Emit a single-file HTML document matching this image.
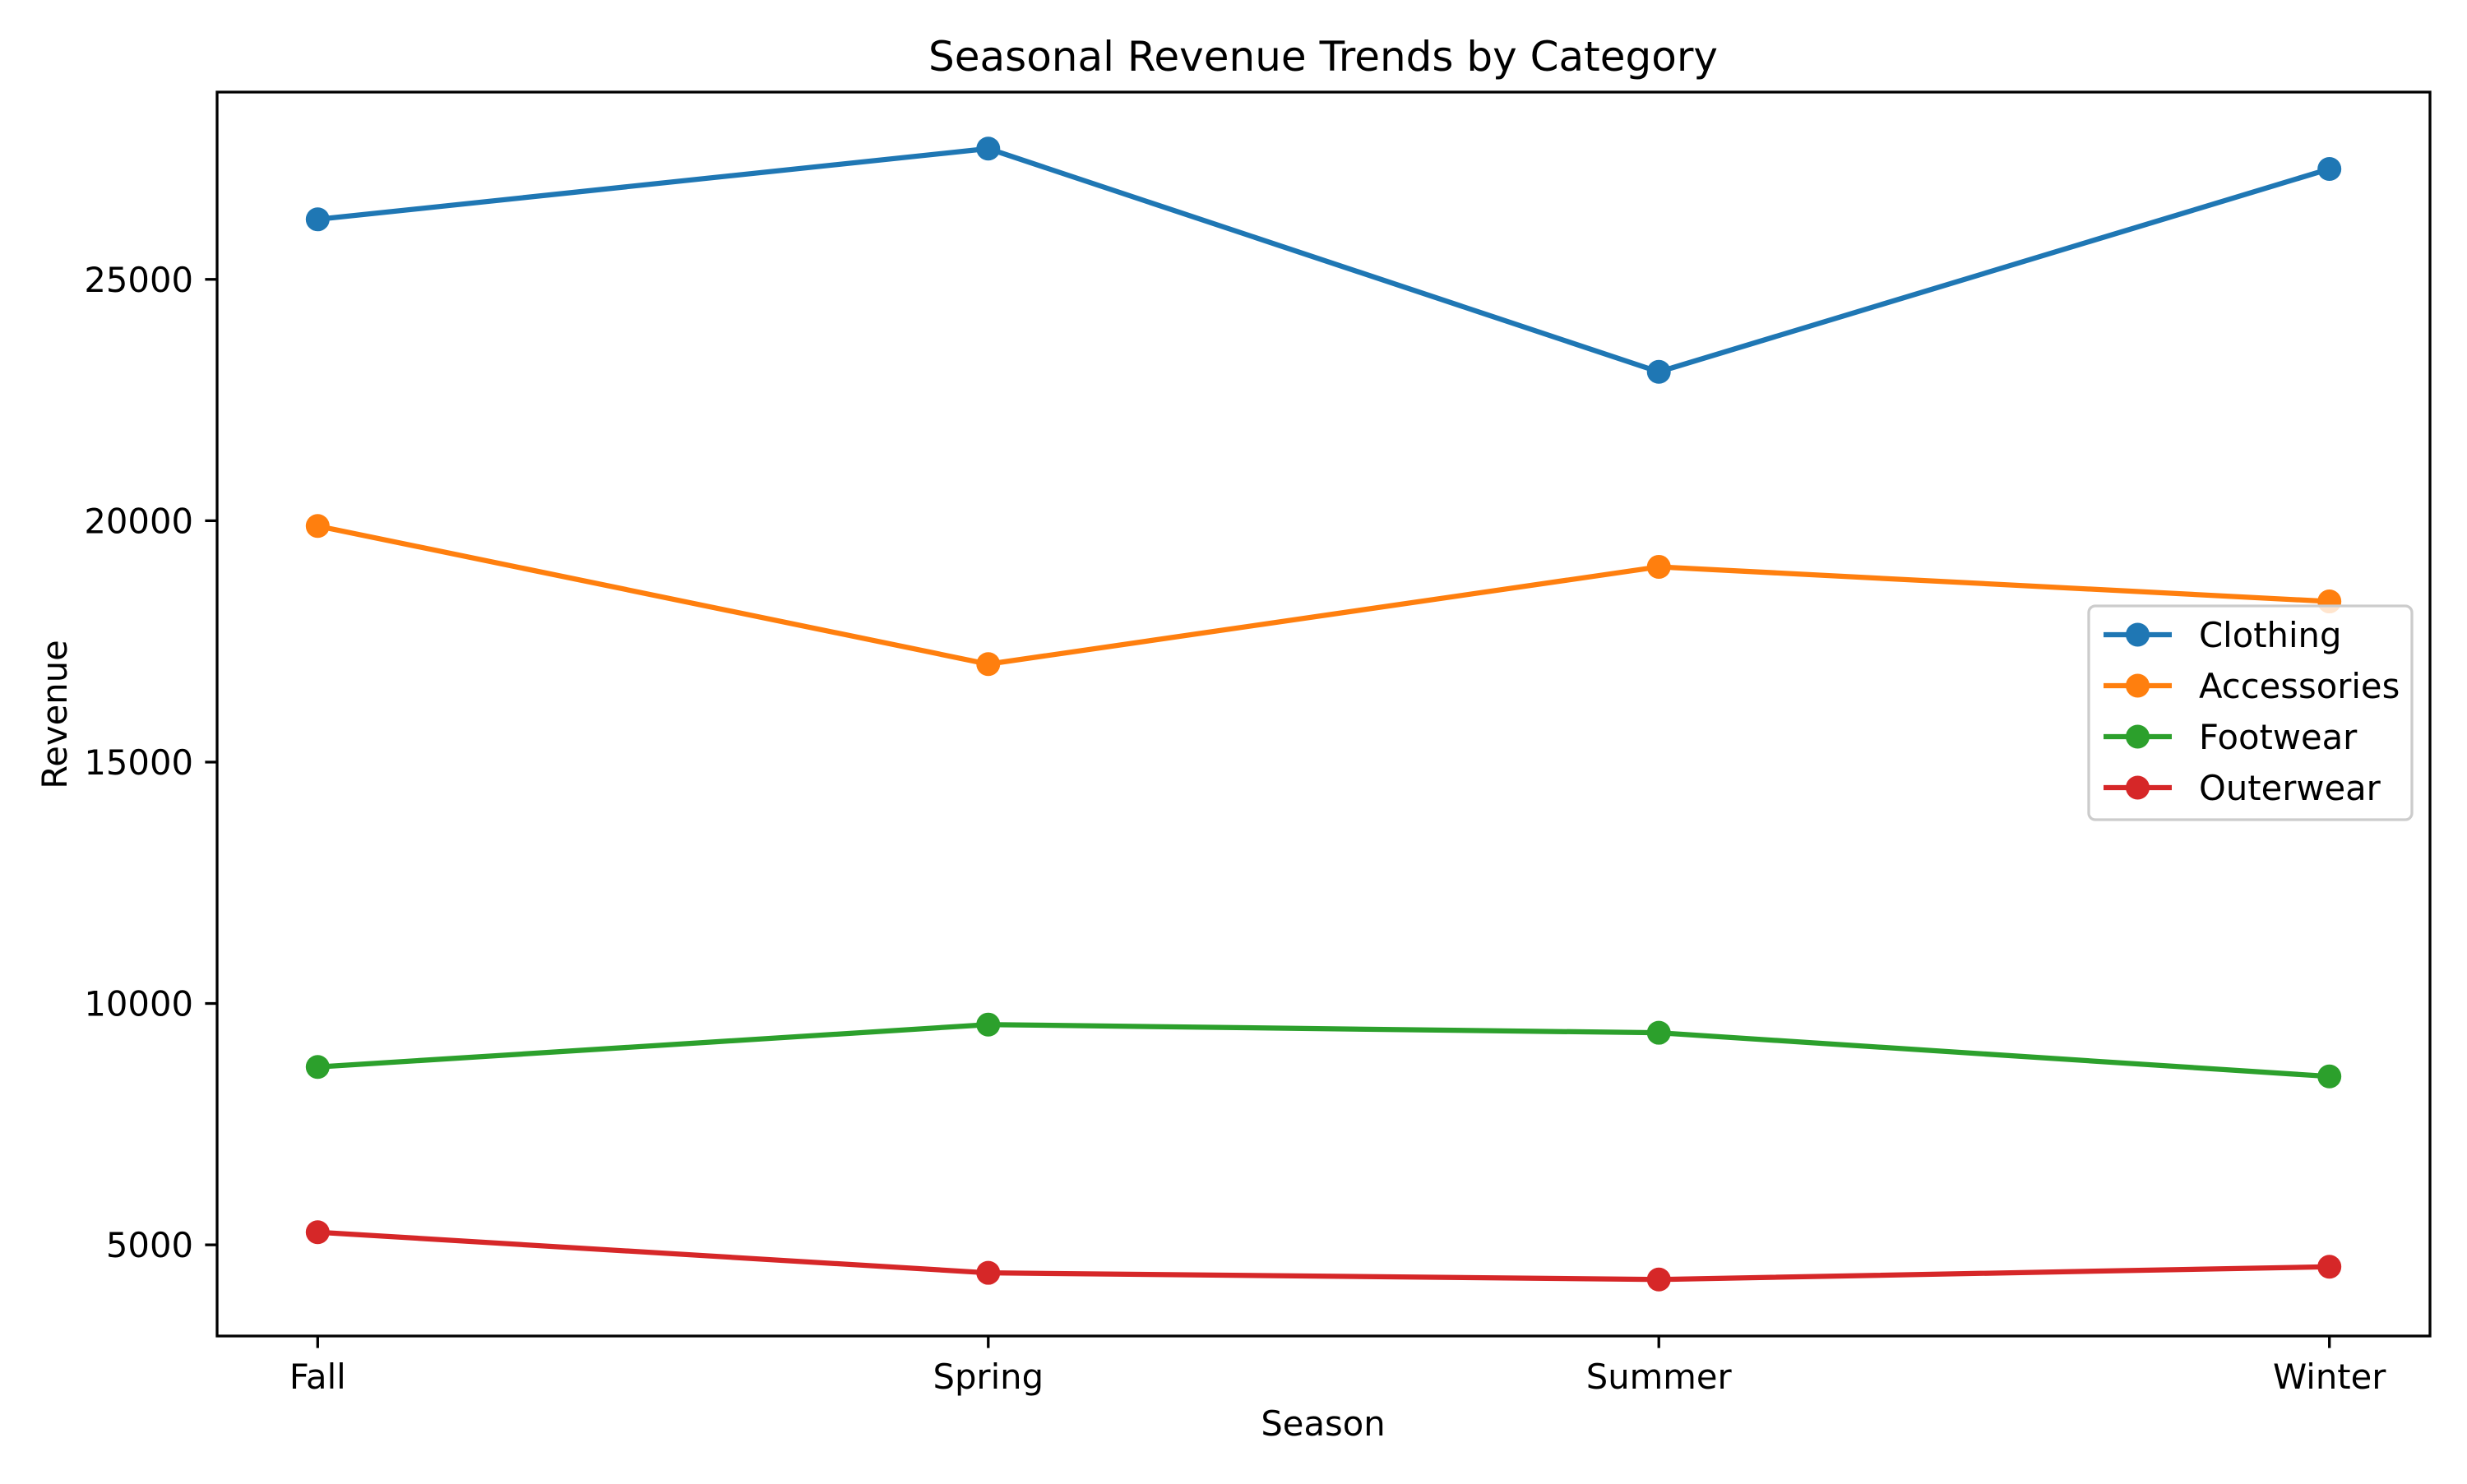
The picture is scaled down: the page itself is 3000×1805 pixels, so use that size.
<!DOCTYPE html>
<html><head><meta charset="utf-8"><style>
html,body{margin:0;padding:0;background:#fff}
svg text{font-family:"DejaVu Sans","Liberation Sans",sans-serif;fill:#000}
</style></head><body>
<svg id="chart" width="3000" height="1800" xmlns="http://www.w3.org/2000/svg">
<rect width="3000" height="1800" fill="#fff"/>
<text x="1609" y="86" font-size="50" text-anchor="middle">Seasonal Revenue Trends by Category</text>
<text x="1609" y="1746" font-size="41.7" text-anchor="middle">Season</text>
<text transform="translate(81,869) rotate(-90)" font-size="41.7" text-anchor="middle">Revenue</text>
<g id="plot"></g>
</svg>
<script>
const categories = ["Fall","Spring","Summer","Winter"];
const seriesNames = ["Clothing","Accessories","Footwear","Outerwear"];
const clothing = [26243,27708,23084,27287];
const accessories = [19891,17030,19045,18328];
const footwear = [8685,9563,9393,8489];
const outerwear = [5262,4420,4283,4547];
const yTicks = [5000,10000,15000,20000,25000];
const colors = ["#1f77b4","#ff7f0e","#2ca02c","#d62728"];

const NS="http://www.w3.org/2000/svg";
const L=264,R=2955,T=112,B=1625;
const all=[clothing,accessories,footwear,outerwear];
let mn=Infinity,mx=-Infinity;
all.forEach(s=>s.forEach(v=>{mn=Math.min(mn,v);mx=Math.max(mx,v);}));
const pad=(mx-mn)*0.05, y0=mn-pad, y1=mx+pad;
const n=categories.length, xpad=(n-1)*0.05;
const xs=i=>L+(i+xpad)/(n-1+2*xpad)*(R-L);
const ys=v=>B-(v-y0)/(y1-y0)*(B-T);
const plot=document.getElementById('plot');
function mk(tag,attrs,parent){const e=document.createElementNS(NS,tag);for(const k in attrs)e.setAttribute(k,attrs[k]);(parent||plot).appendChild(e);return e;}

all.forEach((s,si)=>{
  const g=mk('g',{});
  
  
  const ln=mk('polyline',{points:s.map((v,i)=>xs(i)+','+ys(v)).join(' '),fill:'none',stroke:colors[si],'stroke-width':6.25,'stroke-linejoin':'round'},g);
  
  
  s.forEach((v,i)=>{
    const c=mk('circle',{cx:xs(i),cy:ys(v),r:14.5,fill:colors[si]},g);
    
    
  });
});

const frame=mk('rect',{x:L,y:T,width:R-L,height:B-T,fill:'none',stroke:'#000','stroke-width':3.3});



categories.forEach((c,i)=>{
  const x=xs(i);
  const tk=mk('line',{x1:x,x2:x,y1:B,y2:B+14.6,stroke:'#000','stroke-width':3.3});
  
  
  const t=mk('text',{x:x,y:B+64,'font-size':41.7,'text-anchor':'middle'});
  t.textContent=c;
  
  
});
yTicks.forEach(v=>{
  const y=ys(v);
  const tk=mk('line',{x1:L-14.6,x2:L,y1:y,y2:y,stroke:'#000','stroke-width':3.3});
  
  
  const t=mk('text',{x:L-29,y:y+15,'font-size':41.7,'text-anchor':'end'});
  t.textContent=v;
  
  
});

const lg=mk('g',{});


mk('rect',{x:2540,y:737,width:393,height:260,rx:8,fill:'#fff','fill-opacity':0.8,stroke:'#ccc','stroke-width':3.3},lg);
seriesNames.forEach((nm,i)=>{
  const y=772+i*62;
  const e=mk('g',{},lg);
  
  
  mk('line',{x1:2558,x2:2641,y1:y,y2:y,stroke:colors[i],'stroke-width':6.25},e);
  mk('circle',{cx:2599.5,cy:y,r:14.5,fill:colors[i]},e);
  const t=mk('text',{x:2674,y:y+15,'font-size':41.7},e);
  t.textContent=nm;
});
</script>
</body></html>
